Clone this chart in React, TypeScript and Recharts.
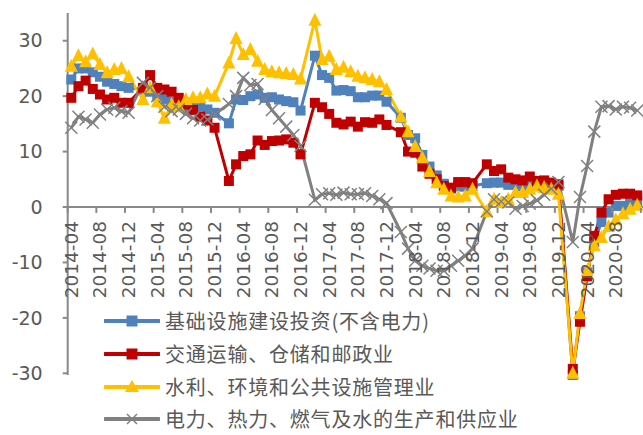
import React from 'react';
import { LineChart, Line, XAxis, YAxis, ReferenceLine } from 'recharts';

// ---- Data ----
const START_YEAR = 2014;
const START_MONTH = 4;
const N_MONTHS = 80;
const categories: string[] = [];
for (let i = 0; i < N_MONTHS; i++) {
  const m = START_MONTH - 1 + i;
  const y = START_YEAR + Math.floor(m / 12);
  const mm = (m % 12) + 1;
  categories.push(`${y}-${mm < 10 ? '0' + mm : mm}`);
}

const X_TICK_LABELS = [
  '2014-04', '2014-08', '2014-12', '2015-04', '2015-08', '2015-12', '2016-04',
  '2016-08', '2016-12', '2017-04', '2017-08', '2017-12', '2018-04', '2018-08',
  '2018-12', '2019-04', '2019-08', '2019-12', '2020-04', '2020-08',
];
const Y_TICKS = [-30, -20, -10, 0, 10, 20, 30];

const SERIES_NAMES = [
  '基础设施建设投资(不含电力)',
  '交通运输、仓储和邮政业',
  '水利、环境和公共设施管理业',
  '电力、热力、燃气及水的生产和供应业',
];

// 2014-04 .. 2020-11 (January values not published -> null)
const infra = [
  23, 25, 25, 24.3, 23.5, 22.6, 22.2, 21.8, 21.5,
  null, 21.2, 20.8, 20, 19.5, 19, 18.3, 18, 17.9, 18.1, 17.6, 17,
  null, 15.1, 19.4, 19.3, 20, 20.3, 19.7, 19.8, 19.4, 19.1, 18.9, 17.4,
  null, 27.3, 23.8, 23.3, 21, 21.1, 20.9, 19.8, 19.8, 20.1, 20.1, 19.0,
  null, 16.1, 13.0, 12.4, 9.4, 7.3, 5.7, 4.2, 3.3, 3.7, 3.7, 3.8,
  null, 4.3, 4.4, 4.4, 4.0, 4.1, 3.8, 4.2, 4.5, 4.2, 4.0, 3.8,
  null, -30.3, -19.7, -11.8, -6.3, -2.7, -1.0, 0.2, 0.2, 0.7, 1.0,
];
const transport = [
  19.7, 21.8, 22.8, 21.3, 20.3, 19.4, 19.7, 18.8, 18.8,
  null, 21.5, 23.8, 21.5, 21.2, 20.8, 19.7, 18.5, 17.5, 16.3, 15.6, 14.3,
  null, 4.7, 7.7, 9.2, 9.5, 12, 11.2, 11.9, 12, 12.2, 11.6, 9.5,
  null, 18.8, 18, 16.8, 15.2, 14.9, 15.4, 14.5, 15.3, 15.2, 15.8, 14.8,
  null, 13.5, 10, 9.8, 7.3, 6, 5, 3.8, 3.5, 4.5, 4.5, 4.3,
  null, 7.7, 6.5, 6.8, 5.3, 5.0, 4.8, 5.5, 4.7, 4.8, 4.4, 4.1,
  null, -29.2, -20.7, -12.5, -5.2, -1.0, 1.4, 2.2, 2.4, 2.4, 2.1,
];
const water = [
  25.4, 27.3, 26.2, 27.6, 25.7, 24.2, 24.8, 25, 23.5,
  null, 19.4, 21.5, 19, 16, 18.5, 18.1, 19.4, 19.7, 19.7, 20.4, 20,
  null, 26, 30.4, 27.5, 28.4, 26.3, 24.8, 24.4, 24.2, 24.1, 23.9, 23.1,
  null, 33.7, 26.6, 27.2, 24.8, 25.2, 24.4, 23.6, 23.3, 23, 22.6, 21.2,
  null, 16.3, 13.6, 10.9, 8.9, 6.4, 4.4, 3.2, 2.0, 1.8, 2.0, 3.2,
  null, -0.8, 1.4, 0.8, 1.4, 2.6, 2.6, 3.2, 3.8, 3.5, 3.2, 2.3,
  null, -30, -19.2, -11.5, -7, -5.5, -3.5, -2.3, -1.2, -0.4, 0.3,
];
const power = [
  14.3, 16.3, 15.8, 15.2, 16.7, 17.6, 17.9, 17.3, 17,
  null, 22.4, 21.5, 20, 18.1, 17.3, 17.6, 16.8, 16, 15.6, 15.8, 16.7,
  null, 18.6, 20, 23.3, 22, 22.2, 19.5, 17.5, 16, 14.5, 13, 11,
  null, 1.3, 2.3, 2.5, 2.2, 2.6, 2.3, 2.3, 2.5, 2, 1.4, 0.7,
  null, -4.5, -7.5, -9.7, -10.6, -11.1, -11.5, -11.5, -10.6, -9.7, -8.8, -7.5,
  null, -0.8, 1.4, 1.0, 0.8, -0.3, 0.2, 0.6, 1.2, 2.2, 3.3, 4.5,
  null, -6.3, 1.8, 7.4, 13.6, 18.1, 18.2, 17.6, 18.1, 17.9, 17.4,
];

const rows = categories.map((month, idx) => ({
  idx,
  month,
  infra: infra[idx],
  transport: transport[idx],
  water: water[idx],
  power: power[idx],
}));

// ---- Layout ----
const W = 643;
const H = 435;
const PLOT_LEFT = 67.7;
const PLOT_TOP = 13;
const PLOT_BOTTOM = 375;
const X_AXIS_H = 30;
const Y_MIN = -30;
const Y_MAX = 35;
const X_MIN = -0.5;
const X_MAX = 79.8;
const PLOT_W = W - PLOT_LEFT;
const HALF_BAND = (PLOT_W / (X_MAX - X_MIN)) / 2;
const Y0 = PLOT_TOP + ((Y_MAX - 0) / (Y_MAX - Y_MIN)) * (PLOT_BOTTOM - PLOT_TOP);
const X_TICKS = Array.from({ length: 21 }, (_, k) => -0.5 + 4 * k);

const AXIS = '#898989';
const TEXT = '#595959';
const C_BLUE = '#4F81BD';
const C_RED = '#C00000';
const C_YEL = '#FFC000';
const C_GREY = '#808080';
const NUM_FONT = '"DejaVu Sans", Verdana, sans-serif';
const CJK_FONT = '"Noto Sans CJK SC", "Noto Sans", sans-serif';

const XTick = (props: any) => {
  const { x, payload } = props;
  const v = Number(payload && payload.value);
  const k = Math.round((v + 0.5) / 4);
  const label = X_TICK_LABELS[k];
  return (
    <g>
      <line x1={x} x2={x} y1={Y0} y2={Y0 + 5} stroke={AXIS} strokeWidth={2} />
      {label ? (
        <text
          transform={`translate(${x + HALF_BAND},${Y0 + 13}) rotate(-90)`}
          textAnchor="end"
          dominantBaseline="central"
          fontSize={18.5}
          fontFamily={NUM_FONT}
          fill={TEXT}
        >
          {label}
        </text>
      ) : null}
    </g>
  );
};

const squareDot = (color: string) => (p: any) => {
  const key = `sq-${color}-${p.index}`;
  if (p.value == null || p.cx == null || p.cy == null) return <g key={key} />;
  return <rect key={key} x={p.cx - 5} y={p.cy - 5} width={10} height={10} fill={color} />;
};
const triDot = (color: string) => (p: any) => {
  const key = `tr-${p.index}`;
  if (p.value == null || p.cx == null || p.cy == null) return <g key={key} />;
  const s = 6.5;
  return (
    <polygon
      key={key}
      points={`${p.cx},${p.cy - s - 1} ${p.cx - s},${p.cy + s - 1} ${p.cx + s},${p.cy + s - 1}`}
      fill={color}
    />
  );
};
const xDot = (color: string) => (p: any) => {
  const key = `x-${p.index}`;
  if (p.value == null || p.cx == null || p.cy == null) return <g key={key} />;
  const s = 6;
  return (
    <g key={key}>
      <line x1={p.cx - s} y1={p.cy - s} x2={p.cx + s} y2={p.cy + s} stroke={color} strokeWidth={1.5} />
      <line x1={p.cx - s} y1={p.cy + s} x2={p.cx + s} y2={p.cy - s} stroke={color} strokeWidth={1.5} />
    </g>
  );
};

const LegendMarker = ({ type, color }: { type: string; color: string }) => {
  const cx = 28;
  const cy = 9;
  let m: React.ReactNode = null;
  if (type === 'square') m = <rect x={cx - 5.5} y={cy - 5.5} width={11} height={11} fill={color} />;
  if (type === 'tri') m = <polygon points={`${cx},${cy - 7} ${cx - 7},${cy + 5} ${cx + 7},${cy + 5}`} fill={color} />;
  if (type === 'x')
    m = (
      <g>
        <line x1={cx - 5} y1={cy - 5} x2={cx + 5} y2={cy + 5} stroke={color} strokeWidth={1.5} />
        <line x1={cx - 5} y1={cy + 5} x2={cx + 5} y2={cy - 5} stroke={color} strokeWidth={1.5} />
      </g>
    );
  return (
    <svg width={56} height={18} style={{ display: 'block' }}>
      <line x1={1} x2={55} y1={cy} y2={cy} stroke={color} strokeWidth={4} strokeLinecap="round" />
      {m}
    </svg>
  );
};

const LEGEND_ITEMS = [
  { name: SERIES_NAMES[0], color: C_BLUE, type: 'square' },
  { name: SERIES_NAMES[1], color: C_RED, type: 'square' },
  { name: SERIES_NAMES[2], color: C_YEL, type: 'tri' },
  { name: SERIES_NAMES[3], color: C_GREY, type: 'x' },
];

export default function App() {
  return (
    <div style={{ position: 'absolute', left: 0, top: 0, width: W, height: H, overflow: 'hidden', background: '#fff' }}>
      <LineChart
        width={W}
        height={H}
        data={rows}
        margin={{ top: PLOT_TOP, right: 0, bottom: H - PLOT_BOTTOM - X_AXIS_H, left: 0 }}
      >
        <XAxis
          dataKey="idx"
          type="number"
          domain={[X_MIN, X_MAX]}
          ticks={X_TICKS}
          interval={0}
          axisLine={false}
          tickLine={false}
          height={X_AXIS_H}
          tick={(p: any) => <XTick {...p} />}
        />
        <YAxis
          type="number"
          domain={[Y_MIN, Y_MAX]}
          ticks={Y_TICKS}
          interval={0}
          width={PLOT_LEFT}
          axisLine={{ stroke: AXIS, strokeWidth: 2 }}
          tickLine={{ stroke: AXIS, strokeWidth: 2 }}
          tickSize={5}
          tickMargin={20}
          tick={{ fill: TEXT, fontSize: 19, fontFamily: NUM_FONT }}
        />
        <ReferenceLine y={0} stroke={AXIS} strokeWidth={2} />
        <Line dataKey="infra" name={SERIES_NAMES[0]} stroke={C_BLUE} strokeWidth={3} connectNulls dot={squareDot(C_BLUE)} isAnimationActive={false} />
        <Line dataKey="transport" name={SERIES_NAMES[1]} stroke={C_RED} strokeWidth={3} connectNulls dot={squareDot(C_RED)} isAnimationActive={false} />
        <Line dataKey="water" name={SERIES_NAMES[2]} stroke={C_YEL} strokeWidth={3} connectNulls dot={triDot(C_YEL)} isAnimationActive={false} />
        <Line dataKey="power" name={SERIES_NAMES[3]} stroke={C_GREY} strokeWidth={3} connectNulls dot={xDot(C_GREY)} isAnimationActive={false} />
      </LineChart>
      <div style={{ position: 'absolute', left: 104, top: 305, background: 'transparent' }}>
        {LEGEND_ITEMS.map((it) => (
          <div key={it.name} style={{ display: 'flex', alignItems: 'center', height: 32.7 }}>
            <LegendMarker type={it.type} color={it.color} />
            <span style={{ marginLeft: 5, fontSize: 20, letterSpacing: 0.8, color: TEXT, fontFamily: CJK_FONT, whiteSpace: 'nowrap', lineHeight: '20px' }}>
              {it.name}
            </span>
          </div>
        ))}
      </div>
    </div>
  );
}
